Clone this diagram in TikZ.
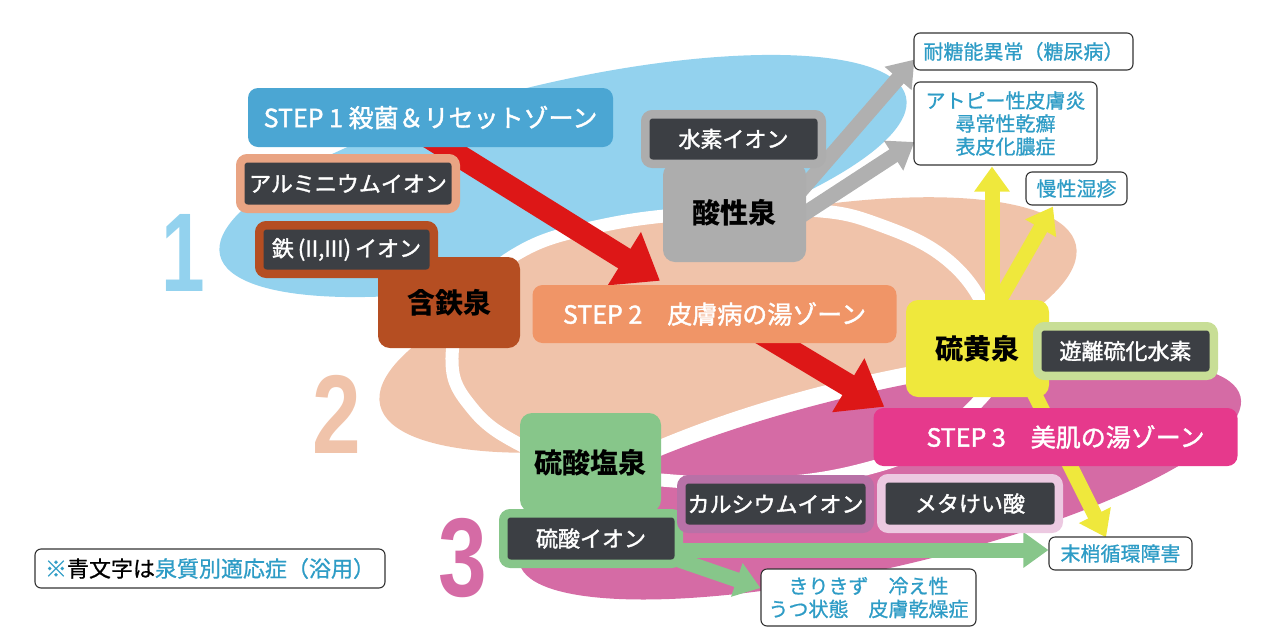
\documentclass[tikz,border=0pt]{standalone}
\usepackage{graphicx}
\usepackage{fontspec}
\setmainfont{Noto Sans CJK JP}
\newfontfamily\labelfont{Noto Sans CJK JP}[FakeBold=1.6]
\newfontfamily\effectfont{Noto Sans CJK JP}[FakeBold=0.8]
\newfontfamily\digitfont{Liberation Sans}
\usetikzlibrary{arrows.meta,calc}

\definecolor{blobblue}{HTML}{93D2EE}
\definecolor{blobsalmon}{HTML}{F0C3AA}
\definecolor{blobpink}{HTML}{D56BA5}
\definecolor{stepblue}{HTML}{4BA6D3}
\definecolor{stepsalmon}{HTML}{F09567}
\definecolor{steppink}{HTML}{E6398C}
\definecolor{iondark}{HTML}{3C3F44}
\definecolor{alframe}{HTML}{E9A483}
\definecolor{ironbrown}{HTML}{B54E22}
\definecolor{acidgrey}{HTML}{ADADAD}
\definecolor{sulfuryellow}{HTML}{EFE83C}
\definecolor{hsgreen}{HTML}{C8DE96}
\definecolor{sulfategreen}{HTML}{87C68A}
\definecolor{caframe}{HTML}{B871A7}
\definecolor{siframe}{HTML}{ECC9E1}
\definecolor{arrowred}{HTML}{DD1717}
\definecolor{arrowgrey}{HTML}{B0B0B0}
\definecolor{effectblue}{HTML}{2E9CC6}

\pgfdeclarelayer{blobs}
\pgfdeclarelayer{arrows}
\pgfsetlayers{blobs,arrows,main}

\tikzset{
  zonebox/.style={fill=#1, rounded corners=10pt, inner sep=0pt, text=white,
    minimum width=364pt, minimum height=58pt,
    font=\labelfont\fontsize{25}{28}\selectfont},
  springbox/.style={fill=#1, rounded corners=12pt, inner sep=0pt,
    minimum width=142pt, font=\bfseries\fontsize{28}{32}\selectfont},
  ionbox/.style={fill=iondark, draw=#1, line width=8.5pt, rounded corners=7pt,
    inner sep=0pt, text=white, minimum height=49.5pt,
    font=\labelfont\fontsize{22}{26}\selectfont},
  effectbox/.style={fill=white, draw=black!80, line width=1.1pt,
    rounded corners=6pt, inner sep=0pt, text=effectblue, align=center,
    font=\effectfont\fontsize{20}{23}\selectfont},
  bignum/.style={text=#1, inner sep=0pt,
    font=\digitfont\bfseries\fontsize{112}{112}\selectfont},
  fatarrow/.style={draw=arrowred, line width=23pt,
    -{Triangle[length=42pt,width=60pt]}},
  slimarrow/.style={draw=#1, line width=15pt,
    -{Triangle[length=25pt,width=34pt]}},
}

\begin{document}
\begin{tikzpicture}[x=1pt, y=-1pt]
  \useasboundingbox (0,0) rectangle (1283,638);

  % zones behind everything
  \begin{pgfonlayer}{blobs}
    \fill[blobblue, rotate around={13:(563,176)}]
      (563,176) ellipse [x radius=352, y radius=94];
    \fill[blobsalmon, rotate around={13:(728,325)}]
      (728,325) ellipse [x radius=357, y radius=102];
    \fill[blobsalmon] plot[smooth cycle, tension=0.7] coordinates {
      (452,362) (470,300) (520,252) (600,226) (700,213) (808,210)
      (880,225) (950,262) (990,320) (996,370) (975,405) (930,440)
      (880,465) (780,483) (661,480) (580,466) (517,443) (472,408)};
    \fill[white, rotate around={13:(880,480)}]
      (880,480) ellipse [x radius=387, y radius=105];
    \fill[blobpink, rotate around={13:(880,480)}]
      (880,480) ellipse [x radius=370, y radius=88];
    \draw[white, line width=13pt] plot[smooth cycle, tension=0.7] coordinates {
      (452,362) (470,300) (520,252) (600,226) (700,213) (808,210)
      (880,225) (950,262) (990,320) (996,370) (975,405) (930,440)
      (880,465) (780,483) (661,480) (580,466) (517,443) (472,408)};
  \end{pgfonlayer}

  \node[bignum=blobblue] (num1) at (183,253) {\scalebox{0.7}[1]{1}};
  \node[bignum=blobsalmon] (num2) at (336.5,414) {\scalebox{0.78}[1]{2}};
  \node[bignum=blobpink] (num3) at (462.5,558) {\scalebox{0.78}[1]{3}};

  \node[zonebox=stepblue, minimum width=365pt, minimum height=59pt] (step1)
    at (430.5,117.5) {STEP 1 殺菌＆リセットゾーン};
  \node[zonebox=stepsalmon] (step2) at (714.5,314) {STEP 2　皮膚病の湯ゾーン};
  \node[zonebox=steppink] (step3) at (1055.5,437)
    {\hspace*{20pt}STEP 3　美肌の湯ゾーン};

  \node[springbox=ironbrown, minimum height=91pt] (fesp) at (449,302.5) {含鉄泉};
  \node[springbox=acidgrey, minimum width=143pt, minimum height=99pt] (acid)
    at (734.5,212.5) {酸性泉};
  \node[springbox=sulfuryellow, minimum width=143pt, minimum height=97pt] (sulfur)
    at (977.5,348.5) {硫黄泉};
  \node[springbox=sulfategreen, minimum width=141pt, minimum height=99pt] (sulfate)
    at (590.5,462.5) {硫酸塩泉};

  \node[ionbox=alframe, minimum width=215.5pt, minimum height=50.5pt] (al)
    at (348,183.5) {アルミニウムイオン};
  \node[ionbox=ironbrown, minimum width=174.5pt, minimum height=48.5pt] (fe)
    at (346.5,249.5) {鉄\hspace{4pt}(II,III)\hspace{4pt}イオン};
  \node[ionbox=acidgrey, minimum width=176.5pt] (hion) at (733.5,139) {水素イオン};
  \node[ionbox=hsgreen, minimum width=176.5pt] (hs) at (1125.5,351) {遊離硫化水素};
  \node[ionbox=sulfategreen, minimum width=175.5pt, minimum height=50.5pt] (so4)
    at (591,538.5) {硫酸イオン};
  \node[ionbox=caframe, minimum width=188.5pt] (ca) at (775.5,504) {カルシウムイオン};
  \node[ionbox=siframe, minimum width=177.5pt, minimum height=50.5pt] (si)
    at (970,503.5) {メタけい酸};

  \node[effectbox, minimum width=219pt, minimum height=37pt] (tai)
    at (1023.5,51.5) {耐糖能異常（糖尿病）};
  \node[effectbox, minimum width=183pt, minimum height=83pt] (atopy)
    at (1005.5,123.5) {アトピー性皮膚炎\\尋常性乾癬\\表皮化膿症};
  \node[effectbox, minimum width=101pt, minimum height=33pt] (eczema)
    at (1076.5,188.5) {慢性湿疹};
  \node[effectbox, minimum width=143pt, minimum height=33pt] (periph)
    at (1120.5,553.5) {末梢循環障害};
  \node[effectbox, minimum width=215pt, minimum height=57pt] (kiri)
    at (868.5,597.5) {きりきず　冷え性\\うつ状態　皮膚乾燥症};
  \node[effectbox, text=black, font=\effectfont\fontsize{22}{26}\selectfont,
    minimum width=350pt, minimum height=39pt] (note) at (210,568.5)
    {\textcolor{effectblue}{※}青文字は\textcolor{effectblue}{泉質別適応症（浴用）}};

  \begin{pgfonlayer}{arrows}
    \draw[fatarrow] ($(step1.south)+(-4.5,-12)$) -- ($(step2.north)+(-54.5,-4)$);
    \draw[fatarrow] ($(step2.south)+(43.5,-12)$) -- ($(step3.north west)+(11,-1)$);
    \draw[slimarrow=arrowgrey] ($(acid.east)+(-10,-16.5)$) -- ($(tai.south west)+(1,-11)$);
    \draw[slimarrow=arrowgrey] ($(acid.east)+(-10,6.5)$) -- ($(atopy.west)+(1,18.5)$);
    \draw[slimarrow=sulfuryellow] ($(sulfur.north)+(14.5,10)$) -- ($(atopy.south)+(-13.5,1)$);
    \draw[slimarrow=sulfuryellow] ($(sulfur.north)+(16.5,10)$) -- ($(eczema.south)+(-23.5,1)$);
    \draw[slimarrow=sulfuryellow] ($(sulfur.south)+(52.5,-12)$) -- ($(periph.north)+(-14.5,1)$);
    \draw[slimarrow=sulfategreen] ($(so4.east)+(-4,11.5)$) -- ($(periph.west)+(0,-3.5)$);
    \draw[slimarrow=sulfategreen] ($(so4.east)+(-4,21.5)$) -- ($(kiri.west)+(0,-9.5)$);
  \end{pgfonlayer}
\end{tikzpicture}
\end{document}
